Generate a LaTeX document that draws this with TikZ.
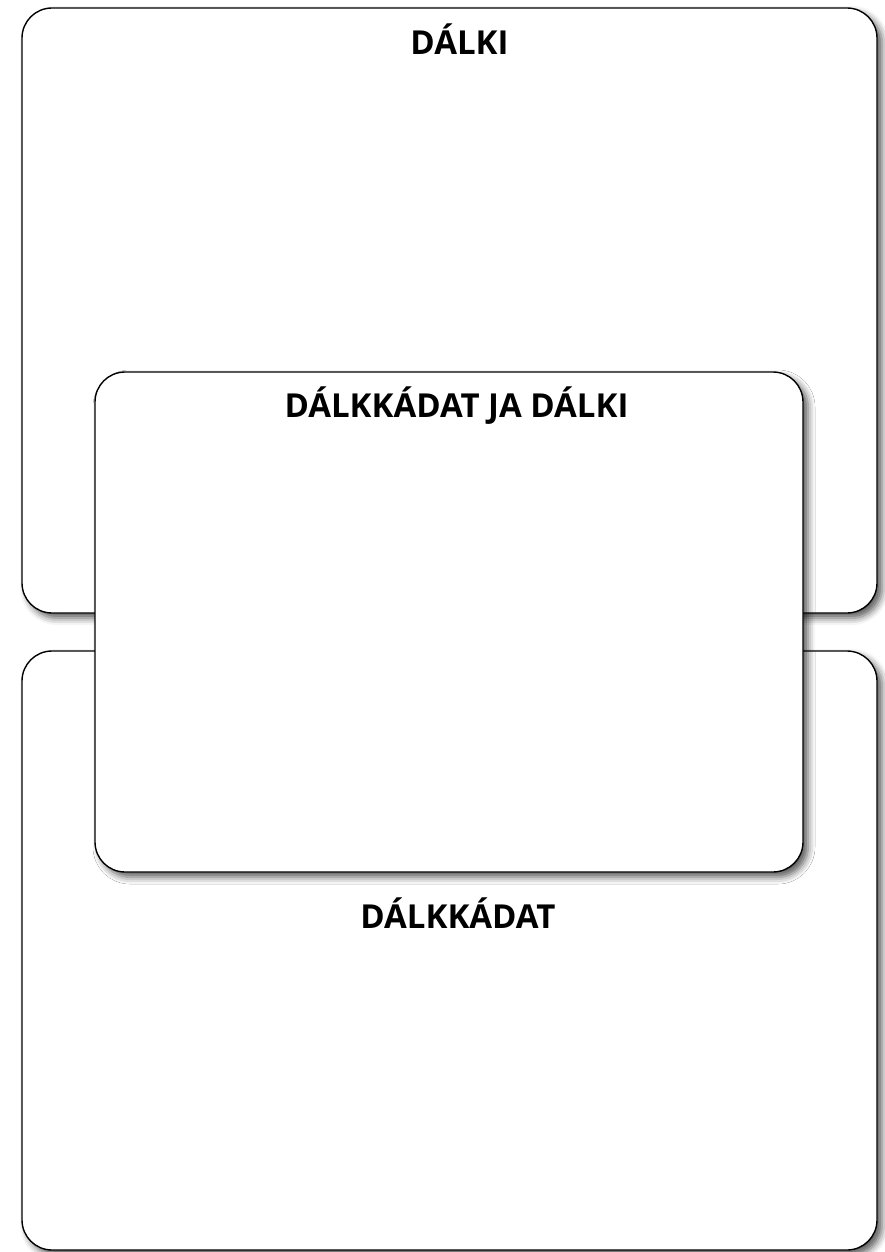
\documentclass[tikz,border=0pt]{standalone}
\usepackage{fontspec}
\setmainfont{Open Sans}
\usetikzlibrary{shadows.blur}
\tikzset{
  panel/.style={draw=black, line width=1.4pt, fill=white, rounded corners=30pt,
    inner sep=0pt, outer sep=0pt,
    blur shadow={shadow xshift=5pt, shadow yshift=-5pt, shadow blur radius=7pt, shadow opacity=65}},
  title/.style={font=\fontsize{33}{38}\selectfont\bfseries, anchor=base, inner sep=0pt}
}
\begin{document}
\begin{tikzpicture}[x=1pt,y=-1pt]
\useasboundingbox (0,0) rectangle (885,1252);
\node[panel, minimum width=855pt, minimum height=605pt] (top) at (449.5,310.5) {};
\node[panel, minimum width=855pt, minimum height=599pt] (bottom) at (449.5,950.5) {};
\node[panel, minimum width=708pt, minimum height=500pt] (mid) at (449,622) {};
\node[title] (ttop) at (459.5,55) {DÁLKI};
\node[title] (tmid) at (456.5,417) {DÁLKKÁDAT JA DÁLKI};
\node[title] (tbot) at (458,928) {DÁLKKÁDAT};
\end{tikzpicture}
\end{document}
